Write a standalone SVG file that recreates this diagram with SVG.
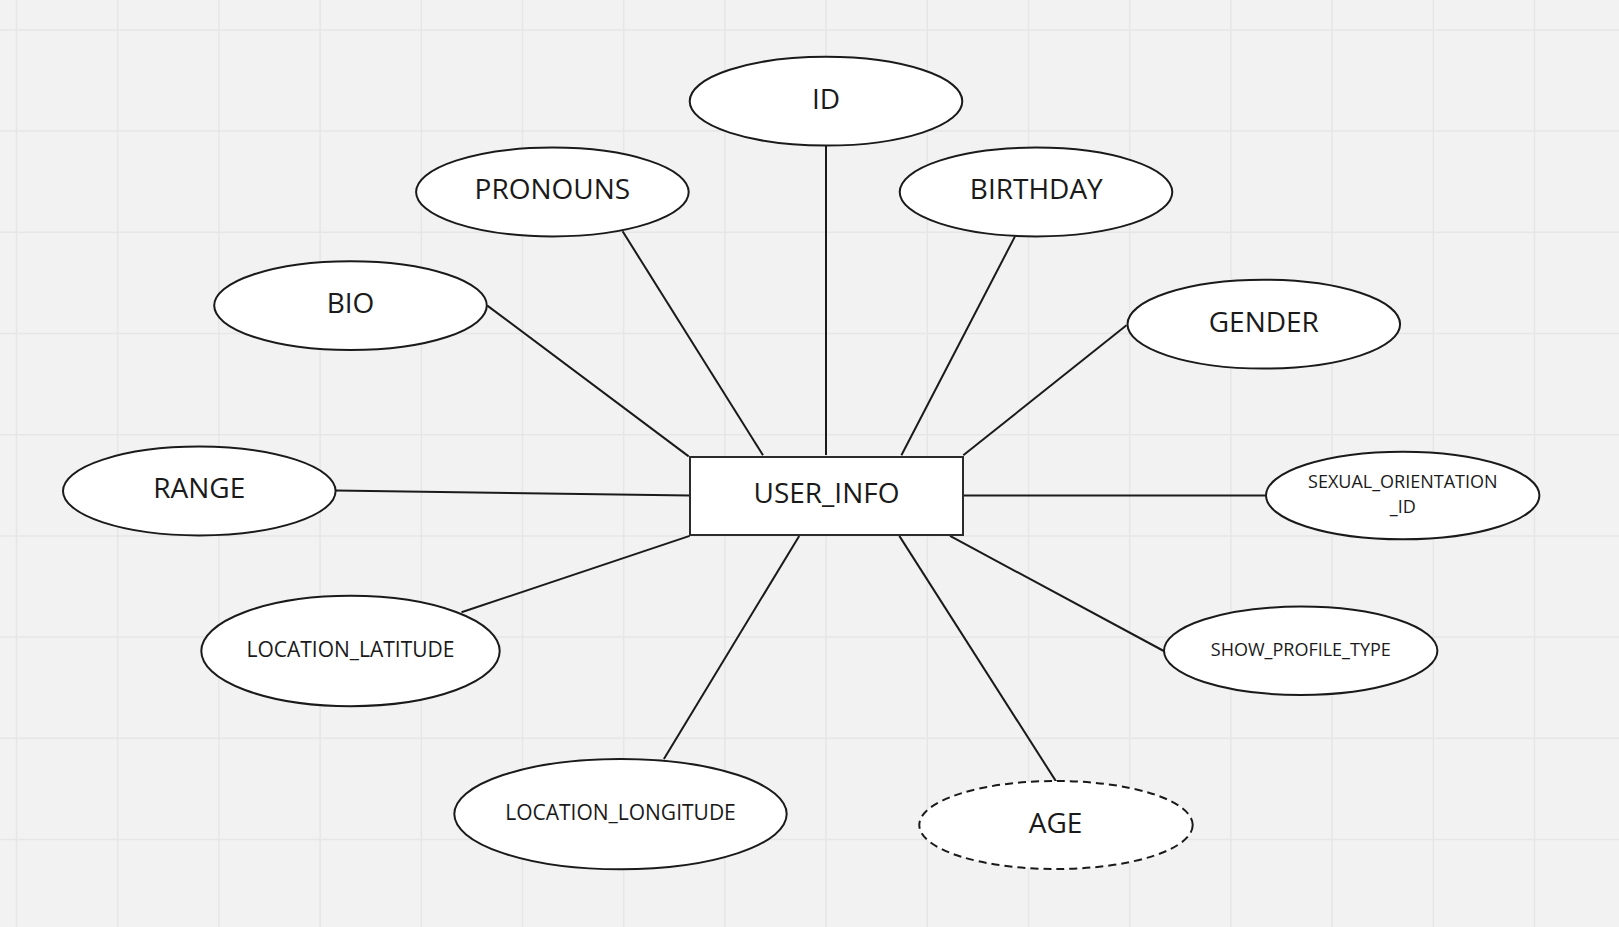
<svg xmlns="http://www.w3.org/2000/svg" width="1619" height="927" viewBox="0 0 1619 927">
<style>
.bg{fill:#f2f2f2}
.grid{stroke:#e6e6e6;stroke-width:1.5;fill:none}
.attr{fill:#ffffff;stroke:#1a1a1a;stroke-width:2}
.derived{fill:#ffffff;stroke:#1a1a1a;stroke-width:2;stroke-dasharray:8 5}
.entity{fill:#ffffff;stroke:#2b2b2b;stroke-width:2}
.conn line{stroke:#1a1a1a;stroke-width:2}
text{font-family:"Open Sans","Noto Sans","Liberation Sans",sans-serif;fill:#1a1a1a;text-anchor:middle}
.big{font-size:28px}
.small{font-size:18px}
.mid{font-size:21px}
</style>
<rect class="bg" x="0" y="0" width="1619" height="927"/>
<path class="grid" d="M16.5 0V927M117.7 0V927M218.9 0V927M320.1 0V927M421.3 0V927M522.5 0V927M623.7 0V927M724.9 0V927M826.1 0V927M927.3 0V927M1028.5 0V927M1129.7 0V927M1230.9 0V927M1332.1 0V927M1433.3 0V927M1534.5 0V927M0 29.9H1619M0 131.1H1619M0 232.3H1619M0 333.5H1619M0 434.7H1619M0 535.9H1619M0 637.1H1619M0 738.3H1619M0 839.5H1619"/>
<g id="connectors" class="conn">
<line x1="826" y1="145.6" x2="826" y2="455"/>
<line x1="622.6" y1="231.3" x2="763" y2="455.3"/>
<line x1="1015" y1="236.4" x2="901.4" y2="455.3"/>
<line x1="487.3" y1="305.6" x2="688.7" y2="456.4"/>
<line x1="1126.5" y1="325.2" x2="963.3" y2="455.3"/>
<line x1="335.6" y1="490.4" x2="689.7" y2="495.6"/>
<line x1="962.3" y1="495.6" x2="1266.9" y2="495.6"/>
<line x1="950" y1="535.9" x2="1164.7" y2="651.5"/>
<line x1="899.3" y1="535.9" x2="1056.2" y2="781.6"/>
<line x1="799.2" y1="535.9" x2="663.9" y2="758.9"/>
<line x1="689.7" y1="535.9" x2="461.5" y2="612.3"/>
</g>
<g id="user_info"><rect class="entity" x="690" y="457" width="273" height="78"/><text class="big" x="826.5" y="502.7">USER_INFO</text></g>
<g id="id"><ellipse class="attr" cx="826" cy="101.2" rx="136.3" ry="44.4"/><text class="big" x="826" y="109">ID</text></g>
<g id="pronouns"><ellipse class="attr" cx="552.4" cy="192" rx="136.3" ry="44.4"/><text class="big" x="552.4" y="199">PRONOUNS</text></g>
<g id="birthday"><ellipse class="attr" cx="1036" cy="192" rx="136.3" ry="44.4"/><text class="big" x="1036.3" y="199">BIRTHDAY</text></g>
<g id="bio"><ellipse class="attr" cx="350.5" cy="305.6" rx="136.3" ry="44.4"/><text class="big" x="350.5" y="312.5">BIO</text></g>
<g id="gender"><ellipse class="attr" cx="1263.8" cy="324.2" rx="136.3" ry="44.4"/><text class="big" x="1263.8" y="332">GENDER</text></g>
<g id="range"><ellipse class="attr" cx="199.3" cy="491" rx="136.3" ry="44.4"/><text class="big" x="199.3" y="498.4">RANGE</text></g>
<g id="sexual_orientation_id"><ellipse class="attr" cx="1402.7" cy="495.5" rx="136.7" ry="43.8"/><text class="small" x="1402.8" y="487.7">SEXUAL_ORIENTATION</text><text class="small" x="1402.8" y="512.7">_ID</text></g>
<g id="show_profile_type"><ellipse class="attr" cx="1300.7" cy="650.8" rx="136.7" ry="44.2"/><text class="small" x="1300.8" y="655.7">SHOW_PROFILE_TYPE</text></g>
<g id="age"><ellipse class="derived" cx="1056" cy="825" rx="136.7" ry="44"/><text class="big" x="1055.5" y="832.7">AGE</text></g>
<g id="location_longitude"><ellipse class="attr" cx="620.5" cy="814.1" rx="166.2" ry="55.2"/><text class="mid" x="620.5" y="820">LOCATION_LONGITUDE</text></g>
<g id="location_latitude"><ellipse class="attr" cx="350.5" cy="651" rx="149.2" ry="55.2"/><text class="mid" x="350.5" y="657">LOCATION_LATITUDE</text></g>
</svg>
